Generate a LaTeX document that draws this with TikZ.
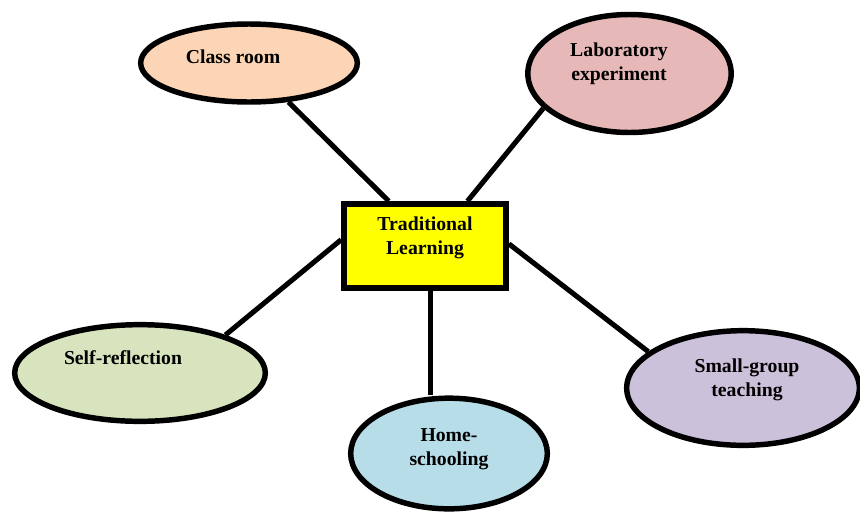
\documentclass[tikz,border=0pt]{standalone}
\usepackage{fontspec}
\setmainfont{Liberation Serif}
\usetikzlibrary{shapes.geometric,calc}
\pgfdeclarelayer{background}
\pgfsetlayers{background,main}
\definecolor{cpeach}{HTML}{FBD5B5}
\definecolor{cpink}{HTML}{E6B8B7}
\definecolor{cgreen}{HTML}{D7E4BD}
\definecolor{cblue}{HTML}{B7DDE8}
\definecolor{cpurple}{HTML}{CCC1DA}
\definecolor{cyel}{HTML}{FFFF00}
\begin{document}
\begin{tikzpicture}[x=0.75pt,y=-0.75pt,
  oval/.style={ellipse,draw=black,line width=4.1pt,inner sep=0pt},
  lbl/.style={font=\fontsize{14.8}{17.8}\selectfont\bfseries,align=center,inner sep=0pt},
  link/.style={draw=black,line width=3.8pt}]
\useasboundingbox (0,0) rectangle (860,511);
\node[draw=black,fill=cyel,line width=4.3pt,minimum width=121.5pt,minimum height=63pt,inner sep=0pt] (tl) at (425,246) {};
\node[lbl] (tlt) at (425,238) {Traditional\\Learning};
\node[oval,fill=cpeach,minimum width=162.5pt,minimum height=58.5pt] (cr) at (249,63) {};
\node[lbl] (crt) at (233,57) {Class room};
\node[oval,fill=cpink,minimum width=152.5pt,minimum height=88.5pt] (lab) at (629.5,73.5) {};
\node[lbl] (labt) at (619,64) {Laboratory\\experiment};
\node[oval,fill=cgreen,minimum width=188pt,minimum height=72.5pt] (sr) at (140,373) {};
\node[lbl] (srt) at (123,358) {Self-reflection};
\node[oval,fill=cblue,minimum width=147.5pt,minimum height=83pt] (hs) at (449,453.5) {};
\node[lbl] (hst) at (449,449) {Home-\\schooling};
\node[oval,fill=cpurple,minimum width=174.5pt,minimum height=86pt] (sg) at (743,388) {};
\node[lbl] (sgt) at (747,379.5) {Small-group\\teaching};
\begin{pgfonlayer}{background}
\coordinate (pcr) at ($(tl.north west)!0.284!(tl.north east)$);
\coordinate (plab) at ($(tl.north west)!0.753!(tl.north east)$);
\coordinate (psr) at ($(tl.north west)!0.43!(tl.south west)$);
\coordinate (psg) at ($(tl.north east)!0.476!(tl.south east)$);
\coordinate (phs) at ($(tl.south west)!0.53!(tl.south east)$);
\draw[link] (cr) -- (pcr);
\draw[link] (lab.202) -- (plab);
\draw[link] (sr.24) -- (psr);
\draw[link] (sg.159) -- (psg);
\draw[link] (phs) -- (phs |- hs.north);
\end{pgfonlayer}
\end{tikzpicture}
\end{document}
